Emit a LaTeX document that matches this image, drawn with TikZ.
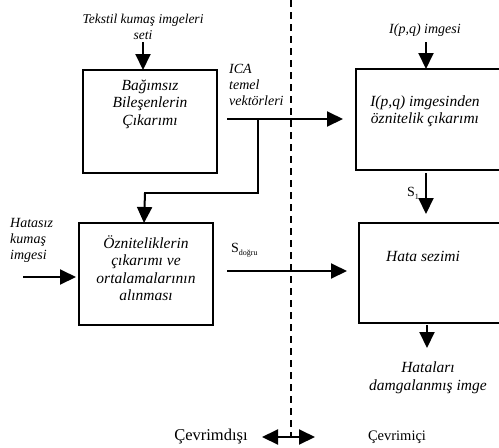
\documentclass[tikz,border=0pt]{standalone}
\usepackage{fontspec}
\setmainfont{Liberation Serif}[ItalicFont={Liberation Serif Italic}]
\usetikzlibrary{arrows.meta}
\tikzset{
  boxnode/.style={draw, line width=1.8pt},
  flow/.style={line width=2pt, -{Triangle[length=16pt,width=15pt]}},
  plainline/.style={line width=2pt},
  boxtext/.style={align=center, font=\itshape\fontsize{15.5}{17.5}\selectfont, inner sep=0pt},
  labeltext/.style={align=center, font=\itshape\fontsize{14}{16}\selectfont, inner sep=0pt},
  sidetext/.style={align=left, font=\itshape\fontsize{14}{16}\selectfont, inner sep=0pt},
  divider/.style={line width=1.6pt, dash pattern=on 7pt off 5pt},
}
\newcommand{\Ssub}[1]{{\fontsize{14}{16}\selectfont S}{\fontsize{8}{9}\selectfont\raisebox{-3pt}{#1}}}
\begin{document}
\begin{tikzpicture}[x=1pt,y=-1pt]
\useasboundingbox (0,0) rectangle (499,448);

% boxes
\draw[boxnode] (83,70) rectangle (217,173);
\coordinate (b1n) at (143,70);
\coordinate (b1e) at (227,119);
\node[boxtext] (t1) at (150,104) {Bağımsız\\Bileşenlerin\\Çıkarımı};

\draw[boxnode] (79,223) rectangle (213,325);
\coordinate (b2n) at (144,223);
\coordinate (b2w) at (76,277);
\coordinate (b2e) at (227,271);
\node[boxtext] (t2) at (146,268) {Özniteliklerin\\çıkarımı ve\\ortalamalarının\\alınması};

\draw[boxnode] (356,69) rectangle (510,170);
\coordinate (b3n) at (426,69);
\coordinate (b3w) at (343,119);
\coordinate (b3s) at (426,173);
\node[boxtext] (t3) at (425,111) {I(p,q) imgesinden\\öznitelik çıkarımı};

\draw[boxnode] (359,223) rectangle (510,323);
\coordinate (b4n) at (426,214);
\coordinate (b4w) at (347,271);
\coordinate (b4s) at (427,325);
\node[boxtext] (t4) at (423,256) {Hata sezimi};

% labels
\node[labeltext, font=\itshape\fontsize{13.5}{15.5}\selectfont] (lt) at (143,27) {Tekstil kumaş imgeleri\\seti};
\coordinate (ltS) at (143,42);
\node[sidetext, anchor=west] (lica) at (229,85) {ICA\\temel\\vektörleri};
\node[sidetext, anchor=west] (lhat) at (10,240) {Hatasız\\kumaş\\imgesi};
\coordinate (lhatE) at (23,277);
\node[labeltext] (lip) at (425,30) {I(p,q) imgesi};
\coordinate (lipS) at (426,42);
\node[labeltext, font=\itshape\fontsize{15.5}{18}\selectfont] (lout) at (428,378) {Hataları\\damgalanmış imge};
\coordinate (loutN) at (427,348);
\node[inner sep=0pt, anchor=west] (sdog) at (231,250) {\Ssub{doğru}};
\node[inner sep=0pt, anchor=east] (s1) at (419,193) {\Ssub{1}};

% connectors
\draw[flow] (ltS) -- (b1n);
\draw[flow] (b1e) -- (b3w);
\coordinate (j1) at (258,119);
\coordinate (j2) at (258,193);
\coordinate (j3) at (144,193);
\draw[plainline] (j1) -- (j2) -- (j3);
\draw[flow] ([xshift=1pt]j3) -- (b2n);
\draw[flow] (lhatE) -- (b2w);
\draw[flow] (b2e) -- (b4w);
\draw[flow] (lipS) -- (b3n);
\draw[flow] (b3s) -- (b4n);
\draw[flow] (b4s) -- (loutN);

% divider
\coordinate (dtop) at (291,0);
\coordinate (dbot) at (291,437);
\draw[divider] (dtop) -- (dbot);
\coordinate (dl) at (262,437);
\coordinate (dr) at (315,437);
\draw[line width=2pt, {Triangle[length=16pt,width=15pt]}-{Triangle[length=16pt,width=15pt]}] (dl) -- (dr);
\node[inner sep=0pt, font=\fontsize{16.5}{18}\selectfont] (coff) at (211,437) {Çevrimdışı};
\node[inner sep=0pt, font=\fontsize{14.5}{17}\selectfont] (con) at (397,437) {Çevrimiçi};
\end{tikzpicture}
\end{document}
